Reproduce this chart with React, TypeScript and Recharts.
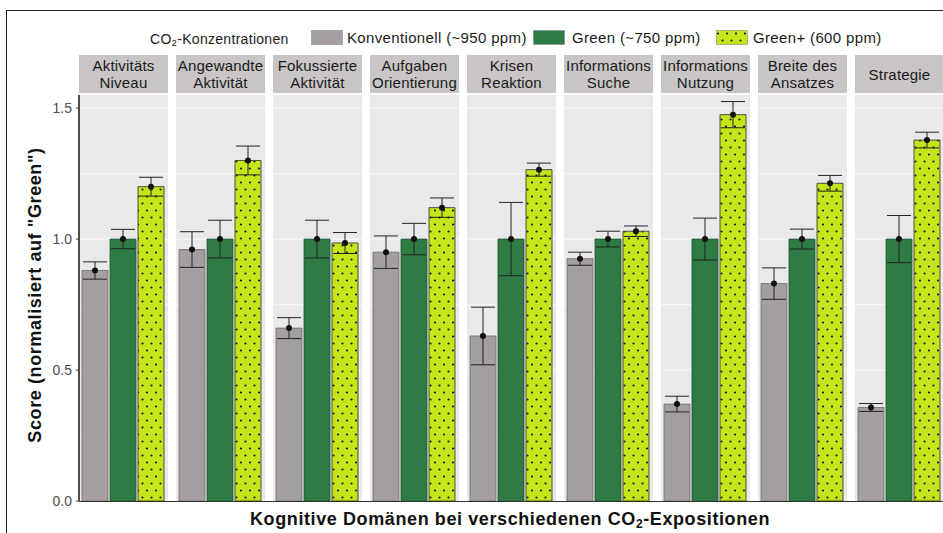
import React from 'react';
import { BarChart, Bar, XAxis, YAxis, ErrorBar, CartesianGrid } from 'recharts';

// Kognitive Domänen, eine Facette je Eintrag
const domains = [
  'Aktivitäts\nNiveau',
  'Angewandte\nAktivität',
  'Fokussierte\nAktivität',
  'Aufgaben\nOrientierung',
  'Krisen\nReaktion',
  'Informations\nSuche',
  'Informations\nNutzung',
  'Breite des\nAnsatzes',
  'Strategie',
];

// Scores normalisiert auf "Green"
const konventionell = [0.88, 0.96, 0.66, 0.95, 0.63, 0.925, 0.37, 0.83, 0.357];
const konventionellErr = [0.033, 0.068, 0.04, 0.062, 0.11, 0.025, 0.03, 0.06, 0.015];
const green = [1.0, 1.0, 1.0, 1.0, 1.0, 1.0, 1.0, 1.0, 1.0];
const greenErr = [0.037, 0.072, 0.072, 0.06, 0.14, 0.03, 0.08, 0.038, 0.09];
const greenPlus = [1.2, 1.3, 0.985, 1.12, 1.265, 1.03, 1.475, 1.213, 1.378];
const greenPlusErr = [0.036, 0.055, 0.04, 0.037, 0.025, 0.02, 0.05, 0.03, 0.03];

const yTicks = [0, 0.5, 1.0, 1.5];
const gridValues = [0.25, 0.5, 0.75, 1.0, 1.25, 1.5];

const FONT = '"Liberation Sans", Arial, Helvetica, sans-serif';
const Y_MAX = 1.55;
const PANEL_X0 = 79;
const PANEL_STEP = 97;
const PANEL_W = 89;
const PLOT_TOP = 95;
const PLOT_H = 406;
const PLOT_PAD_BOTTOM = 12;
const STRIP_TOP = 55;
const STRIP_H = 38;
const AXIS_W = 60;

const C_KONV = '#a59e9e';
const C_GREEN = '#2e7b45';
const C_GPLUS = '#c6e41a';

const renderPoint = (props: any) => {
  const { x, y, width } = props;
  return <circle cx={x + width / 2} cy={y} r={3} fill="#111" />;
};

function Panel({ index }: { index: number }) {
  const first = index === 0;
  const axisW = first ? AXIS_W : 0;
  const row = [
    {
      name: domains[index],
      k: konventionell[index],
      kErr: konventionellErr[index],
      g: green[index],
      gErr: greenErr[index],
      gp: greenPlus[index],
      gpErr: greenPlusErr[index],
    },
  ];
  return (
    <div style={{ position: 'absolute', left: PANEL_X0 + index * PANEL_STEP - axisW, top: PLOT_TOP }}>
      <BarChart
        width={PANEL_W + axisW}
        height={PLOT_H + PLOT_PAD_BOTTOM}
        data={row}
        margin={{ top: 0, right: 0, bottom: PLOT_PAD_BOTTOM, left: 0 }}
        barCategoryGap={3}
        barGap={2}
      >
        <CartesianGrid
          vertical={false}
          horizontalValues={gridValues}
          stroke="#f6f6f6"
          strokeWidth={1.2}
          fill="#e9e9e9"
          fillOpacity={1}
        />
        <XAxis dataKey="name" hide />
        <YAxis
          domain={[0, Y_MAX]}
          ticks={yTicks}
          allowDataOverflow
          hide={!first}
          width={axisW}
          tickFormatter={(v: number) => v.toFixed(1)}
          tick={{ fontSize: 14, fill: '#4d4d4d', fontFamily: FONT }}
          axisLine={{ stroke: '#222', strokeWidth: 1.6 }}
          tickLine={{ stroke: '#333' }}
          tickSize={3}
          tickMargin={4}
        />
        <Bar dataKey="k" fill={C_KONV} stroke="#6f6969" strokeWidth={0.8} isAnimationActive={false} label={renderPoint}>
          <ErrorBar dataKey="kErr" width={12} stroke="#222" strokeWidth={1} direction="y" />
        </Bar>
        <Bar dataKey="g" fill={C_GREEN} stroke="#1d5630" strokeWidth={0.8} isAnimationActive={false} label={renderPoint}>
          <ErrorBar dataKey="gErr" width={12} stroke="#222" strokeWidth={1} direction="y" />
        </Bar>
        <Bar dataKey="gp" fill="url(#gpDots)" stroke="#2b2b2b" strokeWidth={0.8} isAnimationActive={false} label={renderPoint}>
          <ErrorBar dataKey="gpErr" width={12} stroke="#222" strokeWidth={1} direction="y" />
        </Bar>
      </BarChart>
    </div>
  );
}

function Strip({ index }: { index: number }) {
  const lines = domains[index].split('\n');
  return (
    <div
      style={{
        position: 'absolute',
        left: PANEL_X0 + index * PANEL_STEP,
        top: STRIP_TOP,
        width: PANEL_W,
        height: STRIP_H,
        background: '#c9c5c5',
        display: 'flex',
        flexDirection: 'column',
        justifyContent: 'center',
        alignItems: 'center',
        fontSize: 15,
        lineHeight: '17px',
        letterSpacing: 0.2,
        color: '#1a1a1a',
        whiteSpace: 'nowrap',
      }}
    >
      {lines.map((l) => (
        <div key={l}>{l}</div>
      ))}
    </div>
  );
}

const legendText: React.CSSProperties = {
  position: 'absolute',
  top: 29,
  fontSize: 15,
  lineHeight: '18px',
  letterSpacing: 0.35,
  color: '#1a1a1a',
  whiteSpace: 'nowrap',
};

function LegendBox({ left, fill }: { left: number; fill: string }) {
  return (
    <svg style={{ position: 'absolute', left, top: 30 }} width={32} height={15}>
      <rect x={0.5} y={0.5} width={31} height={14} fill={fill} stroke="#8a8a8a" strokeWidth={0.6} />
    </svg>
  );
}

export default function App() {
  return (
    <div
      style={{
        position: 'absolute',
        left: 0,
        top: 0,
        width: 943,
        height: 533,
        background: '#fff',
        fontFamily: FONT,
        overflow: 'hidden',
      }}
    >
      <svg width={0} height={0} style={{ position: 'absolute' }}>
        <defs>
          <pattern id="gpDots" patternUnits="userSpaceOnUse" width={9} height={14}>
            <rect width={9} height={14} fill={C_GPLUS} />
            <circle cx={2} cy={3.5} r={1.1} fill="#1a1a1a" />
            <circle cx={6.5} cy={10.5} r={1.1} fill="#1a1a1a" />
          </pattern>
        </defs>
      </svg>

      {/* Rahmen */}
      <div
        style={{
          position: 'absolute',
          left: 6,
          top: 10,
          width: 960,
          height: 560,
          border: '1.5px solid #222',
        }}
      />

      {/* Legende */}
      <div style={{ ...legendText, left: 150, fontSize: 14, top: 29.5, letterSpacing: 0.3 }}>
        CO<sub style={{ fontSize: 9.5, verticalAlign: -2 }}>2</sub>-Konzentrationen
      </div>
      <LegendBox left={311} fill={C_KONV} />
      <div style={{ ...legendText, left: 347 }}>Konventionell (~950 ppm)</div>
      <LegendBox left={533} fill={C_GREEN} />
      <div style={{ ...legendText, left: 572 }}>Green (~750 ppm)</div>
      <LegendBox left={716} fill="url(#gpDots)" />
      <div style={{ ...legendText, left: 753 }}>Green+ (600 ppm)</div>

      {domains.map((_, i) => (
        <Strip key={`s${i}`} index={i} />
      ))}
      {domains.map((_, i) => (
        <Panel key={`p${i}`} index={i} />
      ))}

      {/* durchgehende x-Achsenlinie */}
      <div style={{ position: 'absolute', left: 79, top: 501, width: 870, height: 0, borderTop: '1.4px solid #333' }} />

      {/* Achsentitel */}
      <div
        style={{
          position: 'absolute',
          left: 510,
          top: 520,
          transform: 'translate(-50%, -50%)',
          fontSize: 18,
          fontWeight: 'bold',
          letterSpacing: 0.6,
          color: '#111',
          whiteSpace: 'nowrap',
        }}
      >
        Kognitive Domänen bei verschiedenen CO<sub style={{ fontSize: 12, verticalAlign: -3 }}>2</sub>-Expositionen
      </div>
      <div
        style={{
          position: 'absolute',
          left: 35,
          top: 295,
          transform: 'translate(-50%, -50%) rotate(-90deg)',
          fontSize: 18,
          fontWeight: 'bold',
          letterSpacing: 0.6,
          color: '#111',
          whiteSpace: 'nowrap',
        }}
      >
        Score (normalisiert auf "Green")
      </div>
    </div>
  );
}
